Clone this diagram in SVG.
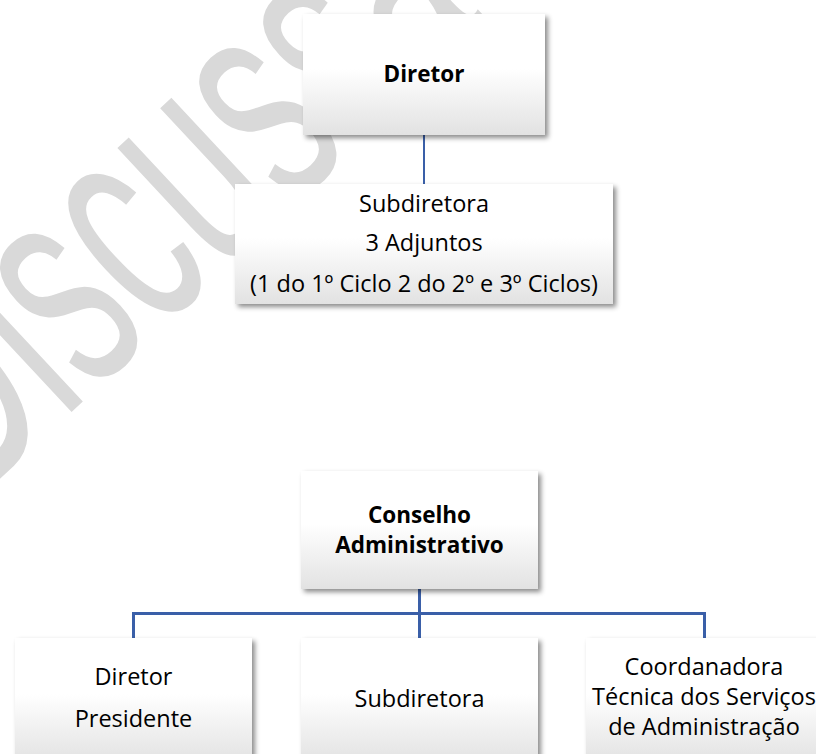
<svg xmlns="http://www.w3.org/2000/svg" width="816" height="754" viewBox="0 0 816 754">
  <defs>
    <linearGradient id="boxfill" x1="0" y1="0" x2="0" y2="1">
      <stop offset="0" stop-color="#ffffff"/>
      <stop offset="0.45" stop-color="#ffffff"/>
      <stop offset="1" stop-color="#e2e2e2"/>
    </linearGradient>
    <filter id="sh" x="-10%" y="-10%" width="125%" height="130%">
      <feDropShadow dx="3" dy="3" stdDeviation="2.5" flood-color="#000000" flood-opacity="0.45"/>
    </filter>
    <style>
      .box { fill: url(#boxfill); filter: url(#sh); }
      .t { font-family: "Open Sans", "Liberation Sans", sans-serif; font-size: 23.5px; fill: #000; text-anchor: middle; }
      .b { font-family: "Open Sans", "Liberation Sans", sans-serif; font-size: 22.5px; font-weight: 700; fill: #000; text-anchor: middle; }
      .wm { font-family: "Liberation Sans", sans-serif; font-size: 175px; fill: #d9d9d9; }
      .c2 { stroke: #3a5fa8; stroke-width: 2; fill: none; }
      .c3 { stroke: #3a5fa8; stroke-width: 3; fill: none; }
    </style>
  </defs>
  <rect width="816" height="754" fill="#ffffff"/>
  <g id="watermark">
    <text class="wm" transform="translate(77,407) rotate(-43) scale(1,1.75)" x="-145.5" y="0">Discussão</text>
  </g>
  <g id="connectors">
    <line class="c2" x1="424" y1="135" x2="424" y2="184"/>
    <line class="c3" x1="419.5" y1="589" x2="419.5" y2="638"/>
    <polyline class="c3" points="133.5,638 133.5,613.5 704.5,613.5 704.5,638"/>
  </g>
  <g id="diretor">
    <rect class="box" x="303" y="14" width="242" height="121"/>
    <text class="b" x="424" y="82">Diretor</text>
  </g>
  <g id="subdiretora-adjuntos">
    <rect class="box" x="235" y="184" width="378" height="120"/>
    <text class="t" x="424" y="212">Subdiretora</text>
    <text class="t" x="424" y="251">3 Adjuntos</text>
    <text class="t" x="424" y="292">(1 do 1º Ciclo 2 do 2º e 3º Ciclos)</text>
  </g>
  <g id="conselho">
    <rect class="box" x="301" y="471" width="237" height="118"/>
    <text class="b" x="419.5" y="523">Conselho</text>
    <text class="b" x="419.5" y="553">Administrativo</text>
  </g>
  <g id="diretor-presidente">
    <rect class="box" x="15" y="638" width="237" height="125"/>
    <text class="t" x="133.5" y="685">Diretor</text>
    <text class="t" x="133.5" y="727">Presidente</text>
  </g>
  <g id="subdiretora">
    <rect class="box" x="301" y="638" width="237" height="125"/>
    <text class="t" x="419.5" y="707">Subdiretora</text>
  </g>
  <g id="coordenadora">
    <rect class="box" x="586" y="638" width="237" height="125"/>
    <text class="t" x="704" y="675">Coordanadora</text>
    <text class="t" x="704" y="705">Técnica dos Serviços</text>
    <text class="t" x="704" y="735">de Administração</text>
  </g>
</svg>
